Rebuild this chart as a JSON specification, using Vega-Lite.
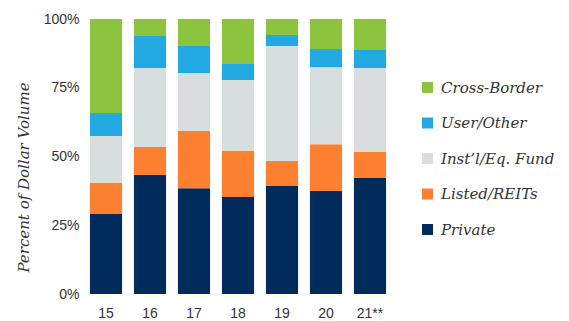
{
  "$schema": "https://vega.github.io/schema/vega-lite/v6.json",
  "autosize": "none",
  "width": 308,
  "height": 275,
  "padding": {"left": 84, "top": 19, "right": 177, "bottom": 27},
  "background": "white",
  "config": {"view": {"stroke": null}},
  "data": {
    "values": [
      {"year": "15", "segment": "Private", "share": 29.1},
      {"year": "15", "segment": "Listed/REITs", "share": 11.3},
      {"year": "15", "segment": "Inst’l/Eq. Fund", "share": 17.1},
      {"year": "15", "segment": "User/Other", "share": 8.3},
      {"year": "15", "segment": "Cross-Border", "share": 34.2},
      {"year": "16", "segment": "Private", "share": 43.3},
      {"year": "16", "segment": "Listed/REITs", "share": 10.2},
      {"year": "16", "segment": "Inst’l/Eq. Fund", "share": 28.7},
      {"year": "16", "segment": "User/Other", "share": 11.6},
      {"year": "16", "segment": "Cross-Border", "share": 6.2},
      {"year": "17", "segment": "Private", "share": 38.5},
      {"year": "17", "segment": "Listed/REITs", "share": 20.8},
      {"year": "17", "segment": "Inst’l/Eq. Fund", "share": 21.1},
      {"year": "17", "segment": "User/Other", "share": 10.1},
      {"year": "17", "segment": "Cross-Border", "share": 9.5},
      {"year": "18", "segment": "Private", "share": 35.3},
      {"year": "18", "segment": "Listed/REITs", "share": 16.7},
      {"year": "18", "segment": "Inst’l/Eq. Fund", "share": 25.8},
      {"year": "18", "segment": "User/Other", "share": 5.8},
      {"year": "18", "segment": "Cross-Border", "share": 16.4},
      {"year": "19", "segment": "Private", "share": 39.3},
      {"year": "19", "segment": "Listed/REITs", "share": 9.1},
      {"year": "19", "segment": "Inst’l/Eq. Fund", "share": 41.8},
      {"year": "19", "segment": "User/Other", "share": 4.0},
      {"year": "19", "segment": "Cross-Border", "share": 5.8},
      {"year": "20", "segment": "Private", "share": 37.5},
      {"year": "20", "segment": "Listed/REITs", "share": 17.0},
      {"year": "20", "segment": "Inst’l/Eq. Fund", "share": 28.0},
      {"year": "20", "segment": "User/Other", "share": 6.6},
      {"year": "20", "segment": "Cross-Border", "share": 10.9},
      {"year": "21**", "segment": "Private", "share": 42.2},
      {"year": "21**", "segment": "Listed/REITs", "share": 9.4},
      {"year": "21**", "segment": "Inst’l/Eq. Fund", "share": 30.6},
      {"year": "21**", "segment": "User/Other", "share": 6.5},
      {"year": "21**", "segment": "Cross-Border", "share": 11.3}
    ]
  },
  "transform": [
    {"calculate": "indexof(['Private','Listed/REITs','Inst’l/Eq. Fund','User/Other','Cross-Border'], datum.segment)", "as": "stackRank"}
  ],
  "mark": {"type": "bar"},
  "encoding": {
    "x": {
      "field": "year",
      "type": "nominal",
      "sort": null,
      "scale": {"paddingInner": 0.27, "paddingOuter": 0.135},
      "axis": {
        "title": null,
        "labelAngle": 0,
        "domain": false,
        "ticks": false,
        "labelPadding": 12,
        "labelFont": "Liberation Sans",
        "labelFontSize": 14,
        "labelColor": "#333333"
      }
    },
    "y": {
      "field": "share",
      "type": "quantitative",
      "stack": "normalize",
      "scale": {"domain": [0, 1], "nice": false},
      "axis": {
        "values": [0, 0.25, 0.5, 0.75, 1],
        "format": ".0%",
        "grid": false,
        "domain": false,
        "ticks": false,
        "labelPadding": 5,
        "labelFont": "Liberation Sans",
        "labelFontSize": 14,
        "labelColor": "#333333",
        "title": "Percent of Dollar Volume",
        "titleFont": "DejaVu Serif",
        "titleFontStyle": "italic",
        "titleFontWeight": "normal",
        "titleFontSize": 15,
        "titleColor": "#333333",
        "titleAngle": -90,
        "titleAlign": "center",
        "titleBaseline": "middle",
        "titleX": -61,
        "titleY": 158
      }
    },
    "color": {
      "field": "segment",
      "type": "nominal",
      "scale": {
        "domain": ["Cross-Border", "User/Other", "Inst’l/Eq. Fund", "Listed/REITs", "Private"],
        "range": ["#8cc43f", "#23a9e1", "#d8dddd", "#fd7f30", "#002b5b"]
      },
      "legend": {
        "title": null,
        "orient": "none",
        "legendX": 336,
        "legendY": 61,
        "padding": 0,
        "symbolType": "square",
        "symbolSize": 121,
        "symbolStrokeWidth": 0,
        "symbolOpacity": 1,
        "labelFont": "DejaVu Serif",
        "labelFontStyle": "italic",
        "labelFontSize": 15,
        "labelColor": "#333333",
        "labelOffset": 6,
        "rowPadding": 19.5
      }
    },
    "order": {"field": "stackRank", "type": "quantitative", "sort": "ascending"}
  }
}
